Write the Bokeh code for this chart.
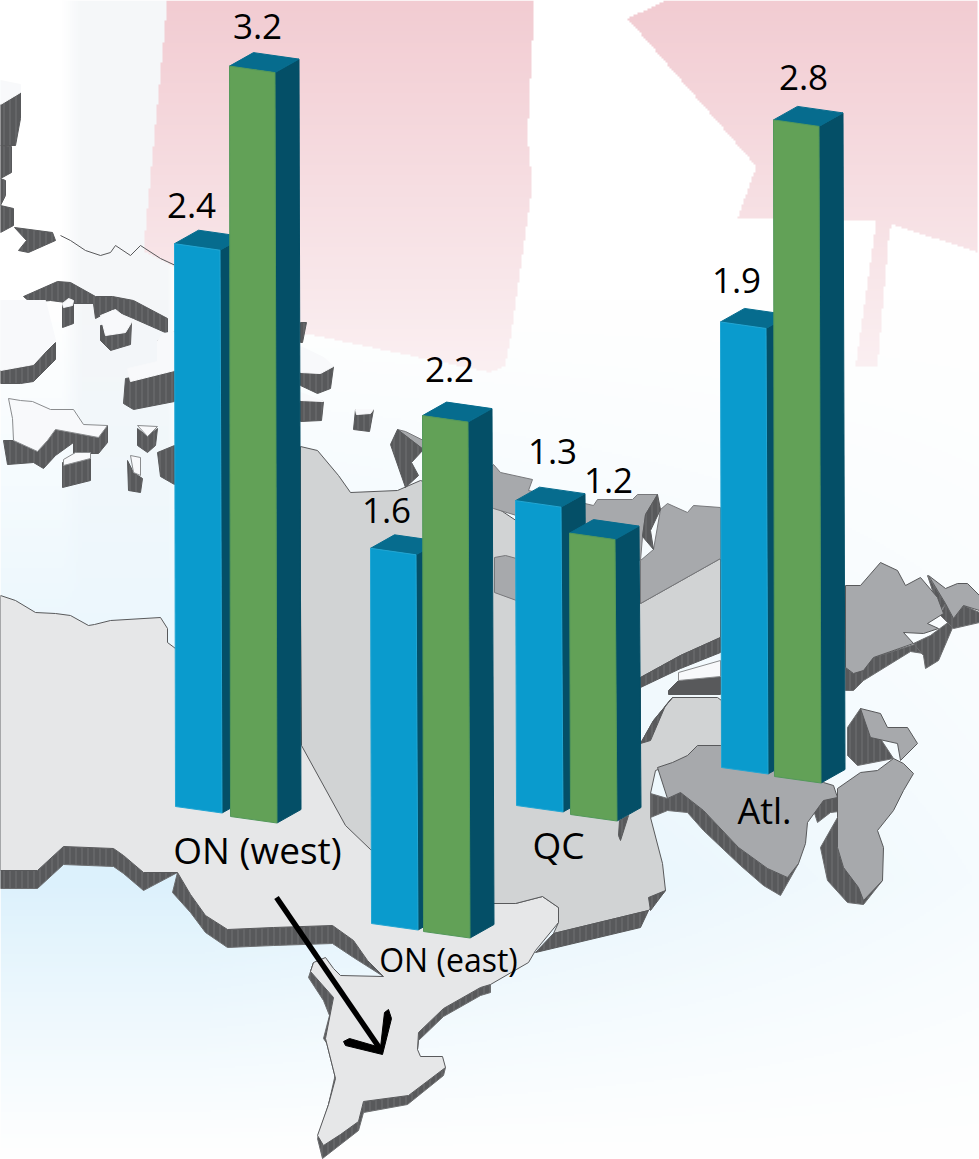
import numpy as np
from bokeh.plotting import figure
from bokeh.models import Range1d
from bokeh.core.properties import value
from bokeh.embed import file_html
from bokeh.resources import INLINE

# ---- data ----
regions = ["ON (west)", "ON (east)", "QC", "Atl."]
series_blue = [2.4, 1.6, 1.3, 1.9]
series_green = [3.2, 2.2, 1.2, 2.8]

# ---- layout of the pictorial scene (screen pixels) ----
PX_PER_UNIT = 234.5
blue_base = [(175, 806), (371, 923), (516, 805), (721, 767)]
green_base = [(230, 816), (423, 931), (570, 814), (774, 776)]
blue_lab = [(191, 218), (386, 523), (552, 464), (736, 293)]
green_lab = [(257, 39), (449, 382), (608, 493), (803, 90)]
region_lab = [(257, 862, 37), (448, 971, 32), (558, 857, 37), (764, 823, 36)]
TEXT_SHIFT = -0.36

W, H = 979, 1159
p = figure(width=W, height=H, x_range=Range1d(0, W), y_range=Range1d(H, 0),
           output_backend="svg", toolbar_location=None, min_border=0)
p.axis.visible = False
p.grid.visible = False
p.outline_line_color = None
p.background_fill_color = "white"


def inpoly(px, py, poly):
    poly = np.array(poly, float)
    res = np.zeros(px.shape, bool)
    n = len(poly)
    for i in range(n):
        x1, y1 = poly[i]
        x2, y2 = poly[(i + 1) % n]
        cond = (y1 > py) != (y2 > py)
        with np.errstate(divide="ignore", invalid="ignore"):
            xi = (x2 - x1) * (py - y1) / (y2 - y1) + x1
        res ^= cond & (px < xi)
    return res


# ---- background raster: sky gradient, faint flag ----
step = 2
ys, xs = np.mgrid[0:H:step, 0:W:step]
xs = xs + 0.5 * step
ys = ys + 0.5 * step
img = np.ones(xs.shape + (3,), float) * 255
f = np.where(ys < 880, np.clip((ys - 300) / 580, 0, 1), np.clip((1159 - ys) / 279, 0, 1)) ** 1.1
g = np.clip(1 - (xs - 200) / 779 * 0.72, 0.28, 1)
I = f * g
img[..., 0] -= 35 * I
img[..., 1] -= 14 * I
img[..., 2] -= 3 * I

band = np.clip((xs - 62) / 20, 0, 1) * np.clip((175 - xs) / 8, 0, 1) * np.clip((620 - ys) / 300, 0, 1)
img[..., 0] -= 10 * band
img[..., 1] -= 8 * band
img[..., 2] -= 6 * band

flag_a = [(167, 0), (535, 0), (528, 137), (533, 185), (510, 344), (505, 366), (490, 372), (300, 332), (143, 250)]
flag_b = [(667, 0), (979, 0), (979, 252), (893, 224), (890, 229), (878, 366), (856, 366), (877, 220),
          (738, 218), (757, 166), (628, 18)]
mask = inpoly(xs, ys, flag_a) | inpoly(xs, ys, flag_b)
t = np.clip(ys / 370, 0, 1)
pink = np.stack([242 + 9 * t, 204 + 36 * t, 210 + 32 * t], axis=-1)
img[mask] = pink[mask]

rgba = np.dstack([img.astype(np.uint8), np.full(xs.shape, 255, np.uint8)])
packed = rgba.view(np.uint32).reshape(xs.shape)
p.image_rgba(image=[packed], x=0, y=0, dw=W, dh=H)

DARK = "#58595b"
SURF = "#f8f9fb"
LIGHT = "#e6e7e8"
MID = "#d1d3d4"
GREY = "#a7a9ac"


def polys(lst, fill, line=None, lw=1, **kw):
    p.patches([[q[0] for q in s] for s in lst], [[q[1] for q in s] for s in lst],
              fill_color=fill, line_color=line if line else fill, line_width=lw, **kw)


HATCH = dict(hatch_pattern="vertical_line", hatch_scale=6, hatch_weight=0.7, hatch_color="#a2a4a6", hatch_alpha=0.45)

# ---- northern islands ----
isl_dark = [
    [(20, 92), (0, 104), (0, 145), (15, 145), (20, 118)],
    [(0, 145), (11, 146), (11, 172), (0, 178)],
    [(0, 178), (5, 180), (5, 195), (0, 205)],
    [(0, 205), (13, 208), (13, 225), (0, 232)],
    [(14, 227), (52, 232), (55, 240), (28, 252), (18, 250), (26, 240)],
    [(23, 296), (57, 281), (70, 282), (95, 296), (112, 296), (133, 300), (167, 318), (167, 333), (133, 318),
     (112, 309), (95, 318), (93, 303), (73, 303), (50, 300), (30, 302)],
    [(62, 303), (73, 300), (73, 323), (62, 327)],
    [(100, 325), (131, 322), (130, 344), (110, 350), (100, 340)],
    [(0, 370), (33, 364), (55, 342), (55, 359), (33, 381), (20, 383), (0, 383)],
    [(125, 378), (174, 370), (174, 401), (133, 409), (123, 403)],
    [(157, 340), (174, 331), (174, 365), (160, 362), (157, 350)],
    [(55, 429), (98, 437), (107, 425), (107, 442), (98, 453), (73, 453), (73, 442), (55, 455), (43, 468),
     (33, 462), (7, 464), (3, 440), (13, 440), (37, 451), (47, 440)],
    [(62, 462), (90, 458), (90, 480), (62, 487)],
    [(137, 428), (147, 436), (157, 428), (155, 445), (147, 452), (137, 445)],
    [(127, 460), (133, 472), (142, 478), (140, 492), (128, 490)],
    [(157, 452), (174, 445), (174, 484), (160, 476)],
    [(300, 322), (306, 322), (302, 342), (300, 342)],
    [(300, 370), (333, 366), (330, 388), (317, 393), (300, 385)],
    [(300, 398), (323, 401), (321, 420), (300, 421)],
    [(355, 409), (373, 409), (369, 431), (353, 429)],
]
isl_surf_plain = [
    [(0, 80), (20, 84), (20, 92), (0, 104)],
    [(0, 300), (45, 300), (50, 320), (55, 340), (33, 364), (0, 370)],
    [(100, 315), (115, 309), (131, 322), (125, 332), (105, 335)],
    [(127, 368), (157, 361), (157, 340), (163, 333), (174, 331), (174, 370), (130, 381)],
    [(300, 346), (323, 357), (333, 366), (320, 373), (300, 372)],
    [(300, 392), (323, 401), (300, 400)],
    [(355, 409), (373, 409), (370, 413), (356, 414)],
    [(62, 303), (68, 298), (73, 300), (72, 305), (63, 307)],
]
isl_surf_lined = [
    [(8, 398), (20, 400), (32, 401), (50, 409), (73, 409), (83, 424), (107, 425), (98, 437), (55, 429), (47, 440),
     (37, 451), (13, 440), (12, 418)],
    [(63, 459), (75, 452), (90, 452), (90, 458), (63, 465)],
    [(137, 425), (157, 426), (147, 436)],
    [(130, 455), (140, 457), (140, 475), (133, 472)],
]
polys(isl_dark, DARK, **HATCH)
polys(isl_surf_plain, SURF)
polys(isl_surf_lined, SURF, "#8a8c8e")
p.line([60, 70, 85, 100, 110, 115, 130, 140, 160, 175], [235, 240, 250, 255, 252, 245, 255, 245, 258, 265],
       line_color=DARK, line_width=1)

# ---- Ontario ----
on_poly = [(0, 595), (15, 600), (35, 612), (55, 613), (70, 615), (88, 625), (94, 624), (110, 620), (160, 617),
           (167, 628), (167, 642), (175, 648), (300, 480), (370, 849), (490, 903), (515, 903), (542, 896), (558, 907),
           (558, 922), (535, 950), (528, 962), (490, 984), (480, 987), (443, 1008), (418, 1032), (417, 1049),
           (420, 1056), (442, 1056), (445, 1067), (408, 1095), (363, 1101), (358, 1121), (340, 1134), (323, 1145),
           (317, 1135), (328, 1104), (335, 1078), (325, 1038), (333, 997), (310, 971), (313, 962), (325, 957),
           (333, 968), (340, 975), (383, 976), (367, 960), (353, 940), (332, 925), (273, 927), (227, 929), (205, 915),
           (190, 894), (177, 872), (143, 872), (123, 855), (113, 848), (63, 846), (37, 870), (0, 870)]
on_bands = [
    [(0, 870), (37, 870), (63, 846), (113, 848), (123, 855), (143, 872), (177, 872), (172, 892), (190, 912),
     (205, 932), (227, 947), (273, 945), (332, 943), (353, 957), (383, 976), (367, 960), (353, 940), (332, 925),
     (273, 927), (227, 929), (205, 915), (190, 894), (177, 872), (143, 890), (123, 873), (113, 866), (63, 864),
     (37, 888), (0, 888)],
    [(313, 962), (308, 977), (323, 1000), (329, 1015), (323, 1038), (338, 1060), (328, 1104), (317, 1138), (322, 1158),
     (358, 1130), (363, 1112), (407, 1104), (443, 1075), (445, 1067), (408, 1095), (363, 1101), (358, 1121), (323, 1145),
     (328, 1104), (335, 1078), (325, 1038), (333, 997), (310, 971)],
    [(417, 1049), (418, 1040), (443, 1016), (480, 995), (490, 992), (490, 984), (480, 987), (443, 1008), (418, 1032)],
]
polys(on_bands, DARK, "#6d6e70", **HATCH)
polys([on_poly], LIGHT, DARK)

# ---- Quebec and eastern provinces ----
qc_poly = [(300, 446), (317, 450), (338, 475), (350, 492), (397, 490), (420, 480), (493, 505), (640, 603), (720, 558),
           (720, 637), (680, 655), (640, 677), (640, 743), (653, 720), (672, 697), (717, 697), (721, 700), (721, 745),
           (655, 770), (650, 793), (650, 817), (662, 863), (665, 890), (648, 910), (553, 933), (558, 922), (558, 907),
           (542, 896), (515, 903), (490, 903), (370, 849), (345, 825), (301, 745), (300, 600)]
grey_surf = [
    [(493, 464), (500, 472), (532, 479), (528, 490), (593, 505), (597, 499), (632, 499), (637, 494), (657, 494),
     (645, 514), (642, 536), (640, 560), (516, 515), (493, 508), (470, 490)],
    [(660, 509), (667, 503), (687, 512), (693, 505), (720, 507), (720, 558), (640, 603), (640, 560), (653, 549)],
    [(494, 557), (505, 555), (516, 558), (516, 600), (494, 592)],
    [(397, 429), (423, 449), (423, 440), (405, 431)],
]
qc_bands = [
    [(553, 933), (648, 910), (640, 927), (535, 952)],
    [(648, 897), (665, 890), (650, 910)],
    [(640, 677), (680, 655), (720, 637), (720, 652), (680, 668), (640, 687)],
    [(640, 743), (653, 720), (672, 697), (665, 705), (650, 740)],
    [(397, 429), (390, 444), (405, 487), (418, 475), (411, 462), (423, 449)],
    [(657, 494), (645, 514), (642, 536), (653, 549), (650, 530), (660, 509)],
    [(619, 820), (628, 815), (620, 840), (618, 835)],
]
polys([qc_poly], MID, DARK)
polys(grey_surf, GREY, "#77787b")
polys(qc_bands, DARK, **HATCH)

polys([[(678, 680), (720, 676), (720, 694), (668, 694), (668, 690)]], DARK)
polys([[(678, 672), (720, 660), (720, 676), (678, 680)]], SURF, "#8a8c8e")

atl_bands = [
    [(650, 793), (667, 798), (680, 792), (703, 810), (738, 847), (767, 868), (787, 877), (798, 863), (780, 895),
     (763, 885), (740, 865), (703, 830), (687, 812), (667, 810), (650, 817)],
    [(837, 817), (820, 847), (827, 880), (847, 902), (863, 904), (882, 880), (858, 885), (843, 867), (837, 847)],
    [(810, 800), (837, 797), (855, 808), (847, 810), (830, 812), (817, 822)],
    [(847, 727), (860, 708), (893, 758), (857, 765), (847, 755)],
    [(845, 667), (853, 673), (873, 657), (917, 643), (923, 653), (910, 651), (863, 680), (853, 690), (845, 690)],
    [(913, 643), (930, 635), (953, 618), (953, 625), (938, 660), (925, 668), (923, 655)],
    [(945, 603), (953, 618), (963, 605), (979, 612), (979, 622), (953, 628), (940, 615)],
    [(927, 575), (945, 603), (937, 615), (932, 590)],
]
atl_surf = [
    [(657, 767), (672, 762), (687, 755), (697, 745), (720, 745), (823, 782), (833, 785), (837, 797), (823, 800),
     (807, 822), (805, 843), (798, 863), (787, 877), (767, 868), (738, 847), (703, 810), (680, 792), (667, 798)],
    [(837, 788), (860, 772), (877, 770), (893, 758), (903, 763), (913, 773), (903, 790), (893, 810), (877, 830),
     (883, 847), (882, 880), (863, 900), (858, 887), (843, 867), (837, 847), (837, 817)],
    [(860, 708), (880, 713), (887, 727), (907, 727), (917, 743), (900, 760), (897, 743), (870, 737)],
    [(845, 585), (860, 585), (880, 562), (897, 570), (905, 585), (920, 577), (937, 597), (943, 613), (927, 623),
     (938, 628), (923, 633), (903, 632), (913, 643), (873, 657), (863, 670), (853, 673), (845, 667)],
    [(928, 575), (945, 588), (957, 583), (967, 583), (979, 595), (979, 610), (963, 605), (953, 618), (945, 603)],
]
polys(atl_bands, DARK, "#6d6e70", **HATCH)
polys(atl_surf, GREY, DARK)


# ---- 3D bars ----
def bar(base, v, front, side, top, edge):
    x, y0 = base
    h = v * PX_PER_UNIT
    w = 46.5
    dy = 6.5
    dxb, dyb = 24, -13.5
    tl = (x - 1, y0 - h)
    tr = (x + w - 2, y0 + dy - h)
    bl = (x, y0)
    br = (x + w, y0 + dy)
    trb = (tr[0] + dxb, tr[1] + dyb)
    brb = (br[0] + dxb, br[1] + dyb)
    tlb = (tl[0] + dxb, tl[1] + dyb)
    polys([[br, brb, trb, tr]], side)
    polys([[tl, tr, trb, tlb]], top)
    polys([[bl, br, tr, tl]], front, edge)


for i in range(len(regions)):
    bar(blue_base[i], series_blue[i], "#0a9bcd", "#044f67", "#066c8e", "#22a6d3")
    bar(green_base[i], series_green[i], "#62a157", "#044f67", "#066c8e", "#53985a")

# ---- texts ----
FONT = value("Open Sans")
vals = [f"{v:.1f}" for v in series_blue + series_green]
lab_pos = blue_lab + green_lab
p.text([q[0] for q in lab_pos], [q[1] + TEXT_SHIFT * 35 for q in lab_pos], text=vals, text_font=FONT,
       text_font_size="35px", text_align="center", text_baseline="alphabetic", text_color="black")
for name, (x, y, s) in zip(regions, region_lab):
    p.text([x], [y + TEXT_SHIFT * s], text=[name], text_font=FONT, text_font_size=f"{s}px",
           text_align="center", text_baseline="alphabetic", text_color="black")

# ---- arrow ----
p.line([276, 380], [897, 1049], line_color="black", line_width=5.5)
p.patches([[343, 349, 380, 384, 388, 391, 382, 345]], [[1041, 1038, 1047, 1012, 1009, 1018, 1054, 1045]],
          fill_color="black", line_color="black")

open("out.html", "w").write(file_html(p, INLINE))
